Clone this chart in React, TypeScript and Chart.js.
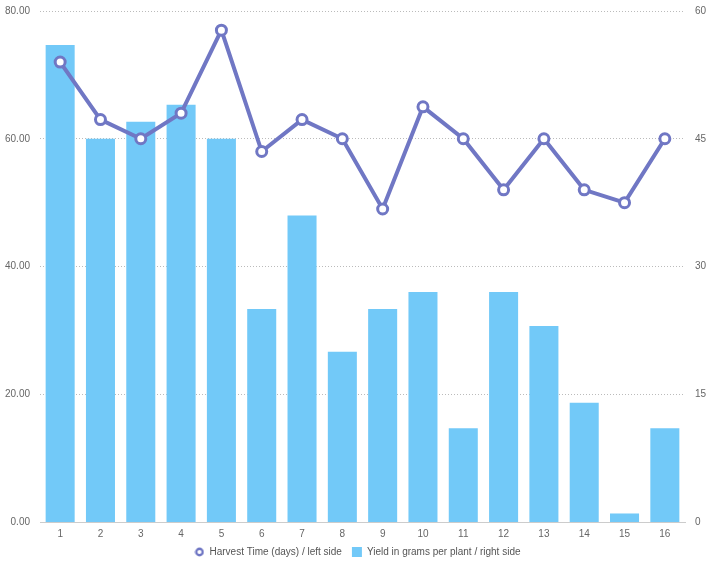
import React, { useEffect, useRef } from "react";
import { Chart, registerables } from "chart.js";

Chart.register(...registerables);

const categories = ["1","2","3","4","5","6","7","8","9","10","11","12","13","14","15","16"];
const harvestDays = [72, 63, 60, 64, 77, 58, 63, 60, 49, 65, 60, 52, 60, 52, 50, 60];
const yieldGrams = [56, 45, 47, 49, 45, 25, 36, 20, 25, 27, 11, 27, 23, 14, 1, 11];
const leftTicks = [0, 20, 40, 60, 80];
const rightTicks = [0, 15, 30, 45, 60];

const LINE_COLOR = "#7077c4";
const BAR_COLOR = "#72c9f8";

function makeCircleIcon(): HTMLCanvasElement {
  const size = 10;
  const c = document.createElement("canvas");
  c.width = size;
  c.height = size;
  const ctx = c.getContext("2d")!;
  ctx.beginPath();
  ctx.arc(size / 2, size / 2, 3.2, 0, Math.PI * 2);
  ctx.fillStyle = "#fff";
  ctx.fill();
  ctx.lineWidth = 2.4;
  ctx.strokeStyle = LINE_COLOR;
  ctx.stroke();
  return c;
}

export default function App() {
  const ref = useRef<HTMLCanvasElement>(null);
  useEffect(() => {
    if (!ref.current) return;
    Chart.defaults.font.family = "'Liberation Sans', Arial, sans-serif";
    Chart.defaults.font.size = 10;
    Chart.defaults.color = "#666";
    const icon = makeCircleIcon();
    const chart = new Chart(ref.current, {
      type: "bar",
      data: {
        labels: categories,
        datasets: [
          {
            type: "line",
            label: "Harvest Time (days) / left side",
            data: harvestDays,
            yAxisID: "y",
            borderColor: LINE_COLOR,
            backgroundColor: "#ffffff",
            borderWidth: 4,
            pointRadius: 5,
            pointBorderWidth: 3,
            pointBackgroundColor: "#ffffff",
            pointBorderColor: LINE_COLOR,
            pointStyle: "circle",
            tension: 0,
            order: 0,
          },
          {
            type: "bar",
            label: "Yield in grams per plant / right side",
            data: yieldGrams,
            yAxisID: "y1",
            backgroundColor: BAR_COLOR,
            borderWidth: 0,
            pointStyle: "rect",
            order: 1,
          },
        ],
      },
      options: {
        animation: false,
        responsive: true,
        maintainAspectRatio: false,
        layout: { padding: 0 },
        plugins: {
          legend: {
            position: "bottom",
            labels: {
              usePointStyle: true,
              boxWidth: 10,
              boxHeight: 10,
              padding: 10,
              color: "#555",
              generateLabels: (c: any) => {
                const items = Chart.defaults.plugins.legend.labels.generateLabels(c);
                items.forEach((it: any) => {
                  if (it.datasetIndex === 0) {
                    it.pointStyle = icon;
                  } else {
                    it.lineWidth = 0;
                  }
                });
                return items;
              },
            },
          },
          tooltip: { enabled: false },
        },
        scales: {
          x: {
            grid: { display: false, drawTicks: false },
            border: { display: true, color: "#ccc" },
            ticks: { color: "#666", padding: 6 },
            afterFit: (axis: any) => {
              axis.height = axis.height - 9;
            },
          },
          y: {
            position: "left",
            min: 0,
            max: 80,
            afterBuildTicks: (axis: any) => {
              axis.ticks = leftTicks.map((v) => ({ value: v }));
            },
            afterFit: (axis: any) => {
              axis.width = 40;
            },
            ticks: { callback: (v: any) => Number(v).toFixed(2), color: "#666", padding: 10 },
            grid: { color: "#bbb", drawTicks: false },
            border: { display: false, dash: [1, 2] },
          },
          y1: {
            position: "right",
            min: 0,
            max: 60,
            afterBuildTicks: (axis: any) => {
              axis.ticks = rightTicks.map((v) => ({ value: v }));
            },
            afterFit: (axis: any) => {
              axis.width = 30;
            },
            ticks: { color: "#666", padding: 10 },
            grid: { display: false, drawTicks: false },
            border: { display: false },
          },
        },
      },
    });
    return () => chart.destroy();
  }, []);
  return (
    <div style={{ position: "fixed", left: 0, top: 0, width: 715, height: 564, overflow: "hidden" }}>
      <div style={{ position: "absolute", left: 0, top: -5, width: 715, height: 572 }}>
        <canvas ref={ref} />
      </div>
    </div>
  );
}
